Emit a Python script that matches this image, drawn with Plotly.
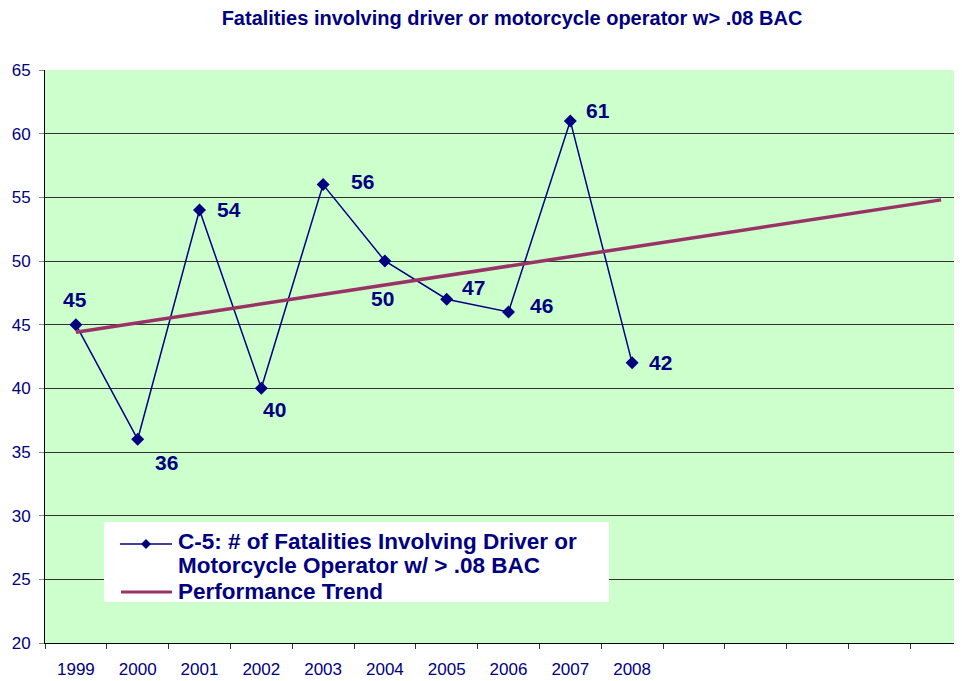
import plotly.graph_objects as go

# ---- data ----
years = ["1999", "2000", "2001", "2002", "2003", "2004", "2005", "2006", "2007", "2008"]
fatalities = [45, 36, 54, 40, 56, 50, 47, 46, 61, 42]
trend_positions = [0, 14]          # category index of trend start / end
trend_values = [44.4, 54.8]
y_ticks = [20, 25, 30, 35, 40, 45, 50, 55, 60, 65]

series_line1 = "C-5: # of Fatalities Involving Driver or"
series_line2 = "Motorcycle Operator w/ > .08 BAC"
trend_name = "Performance Trend"
title_text = "Fatalities involving driver or motorcycle operator w> .08 BAC"

# label offsets (pixels) - styling only
label_shift = [(-1, 25), (29, -23), (29, 1), (13, -21), (39, 3),
               (-2, -37), (27, 12), (33, 6), (28, 10), (28, 0)]

NAVY = "#000080"
PLUM = "#993366"
FONT = "Liberation Sans, Arial, sans-serif"

# page body has an 8px margin; compensate
OFF = 8
W, H = 962 - OFF, 681 - OFF
PL, PT, PB, PR = 45, 70, 643, 962          # plot area in page pixels
PW, PH = PR - PL, PB - PT
CAT_PX = 61.8


def px_x(px):
    return (px - PL) / PW


def px_y(py):
    return (PB - py) / PH


x_idx = list(range(len(years)))

fig = go.Figure()
fig.add_trace(go.Scatter(
    x=x_idx, y=fatalities, mode="lines+markers", name=series_line1 + " " + series_line2,
    line=dict(color=NAVY, width=1.5),
    marker=dict(symbol="diamond", size=10, color=NAVY),
    showlegend=False,
))
fig.add_trace(go.Scatter(
    x=trend_positions, y=trend_values, mode="lines", name=trend_name,
    line=dict(color=PLUM, width=3.5), showlegend=False,
))

for i, v in enumerate(fatalities):
    dx, dy = label_shift[i]
    fig.add_annotation(x=x_idx[i], y=v, text=str(v), showarrow=False,
                       xshift=dx, yshift=dy,
                       font=dict(family=FONT, size=21, color=NAVY, weight="bold"))

# ---- legend (drawn) ----
shapes = [
    dict(type="rect", xref="paper", yref="paper", layer="above",
         x0=px_x(104), x1=px_x(609), y0=px_y(602), y1=px_y(522),
         fillcolor="white", line=dict(width=0)),
    dict(type="line", xref="paper", yref="paper", layer="above",
         x0=px_x(120), x1=px_x(172), y0=px_y(544), y1=px_y(544),
         line=dict(color=NAVY, width=1.5)),
    dict(type="path", xref="paper", yref="paper", layer="above",
         path="M {a},{b} L {c},{d} L {a},{e} L {f},{d} Z".format(
             a=px_x(146), b=px_y(539), c=px_x(151), d=px_y(544),
             e=px_y(549), f=px_x(141)),
         fillcolor=NAVY, line=dict(color=NAVY, width=0)),
    dict(type="line", xref="paper", yref="paper", layer="above",
         x0=px_x(121), x1=px_x(172), y0=px_y(592), y1=px_y(592),
         line=dict(color=PLUM, width=3)),
]
for txt, yc in [(series_line1, 541), (series_line2, 565.5), (trend_name, 591)]:
    fig.add_annotation(xref="paper", yref="paper", x=px_x(177), y=px_y(yc),
                       xanchor="left", yanchor="middle", text=txt, showarrow=False,
                       borderpad=0,
                       font=dict(family=FONT, size=22.5, color=NAVY, weight="bold"))

x_end = -0.5 + PW / CAT_PX

fig.update_layout(
    width=W, height=H,
    margin=dict(l=PL - OFF, r=0, t=PT - OFF, b=H - (PB - OFF), pad=0),
    paper_bgcolor="white", plot_bgcolor="#CCFFCC",
    font=dict(family=FONT, color=NAVY),
    title=dict(text=title_text, x=(512 - OFF) / W, xref="container", xanchor="center",
               y=1 - (18 - OFF) / H, yref="container", yanchor="middle",
               font=dict(family=FONT, size=20, color=NAVY, weight="bold")),
    showlegend=False,
    shapes=shapes,
)
fig.update_xaxes(
    range=[-0.5, x_end], tickmode="array", tickvals=x_idx, ticktext=years,
    ticks="", showgrid=False, zeroline=False,
    showline=True, linecolor="black", linewidth=1,
    tickfont=dict(family=FONT, size=17, color=NAVY),
    ticklabelstandoff=11,
    minor=dict(tickmode="linear", tick0=-0.5, dtick=1, ticks="outside",
               ticklen=5, tickcolor="#333333", showgrid=False),
)
fig.update_yaxes(
    range=[20, 65], tickmode="array", tickvals=y_ticks,
    ticks="outside", ticklen=5, tickcolor="#888888",
    showgrid=True, gridcolor="#333333", gridwidth=1, zeroline=False,
    showline=True, linecolor="black", linewidth=1,
    tickfont=dict(family=FONT, size=17, color=NAVY),
    ticklabelstandoff=5,
)

fig.write_html("out.html")
